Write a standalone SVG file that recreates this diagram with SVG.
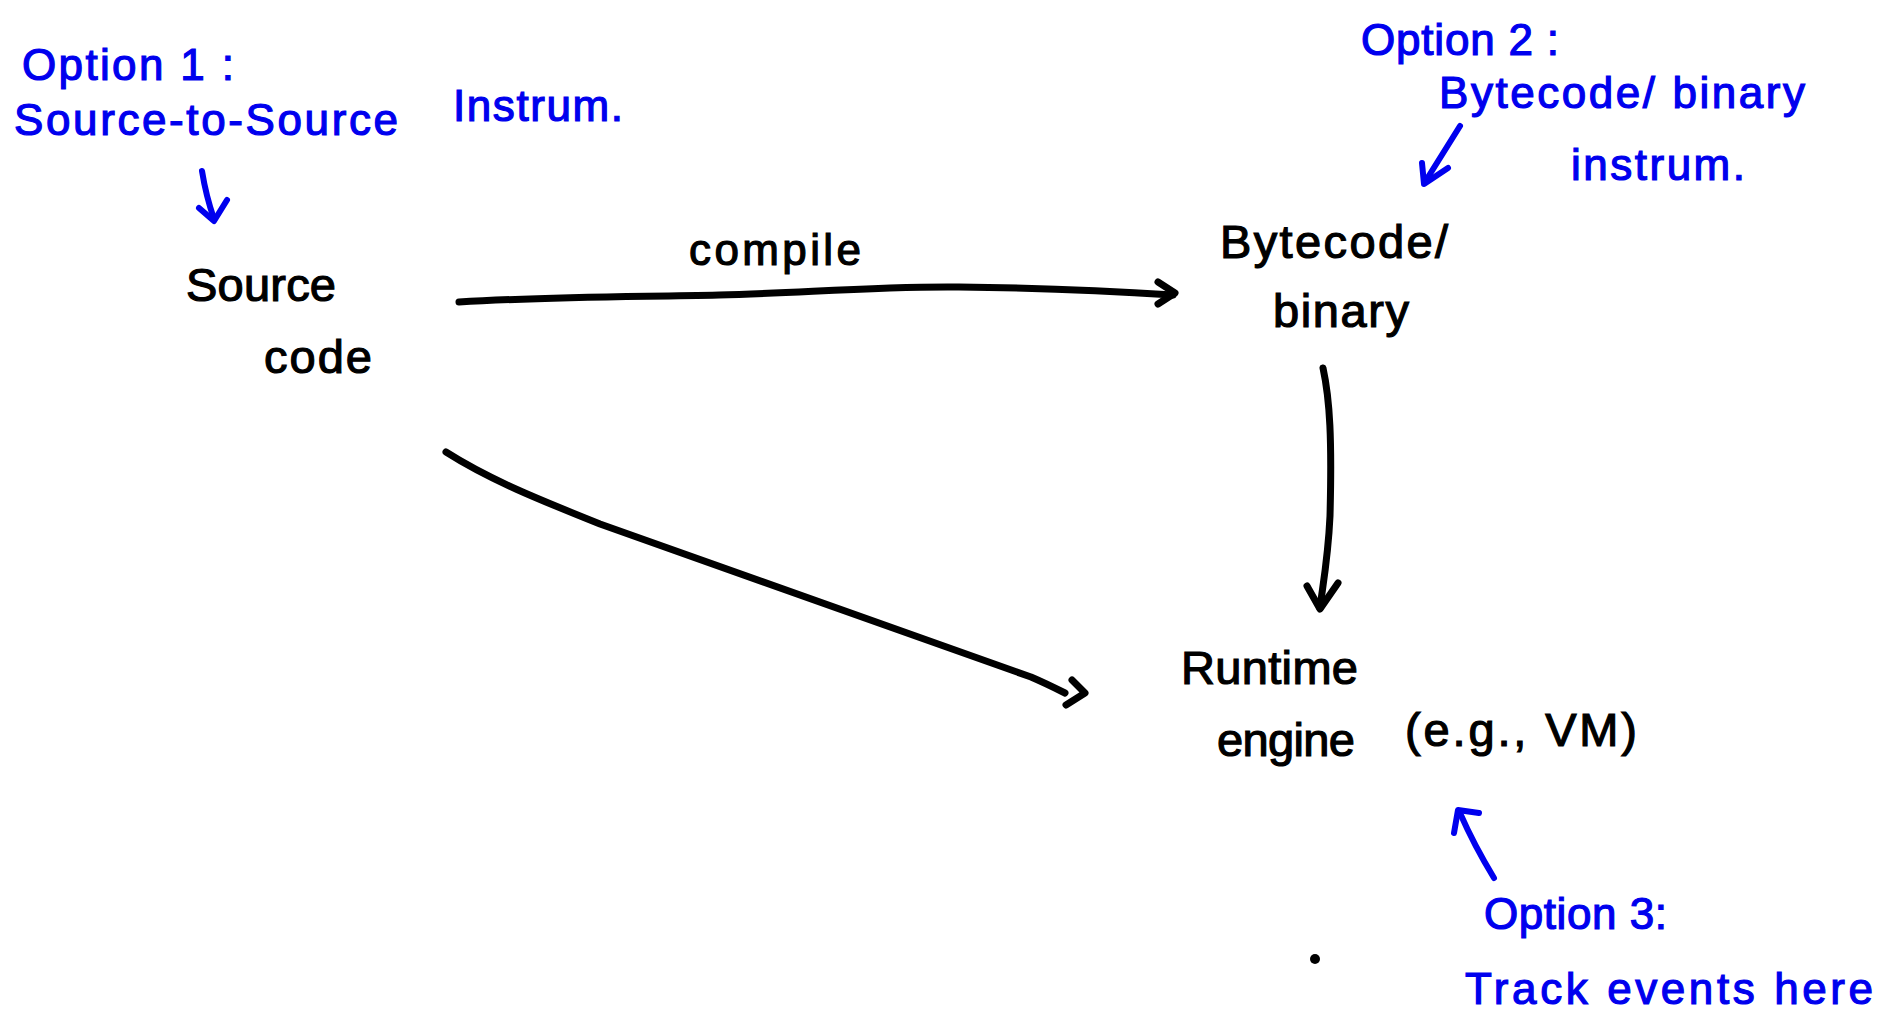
<svg xmlns="http://www.w3.org/2000/svg" width="1880" height="1016" viewBox="0 0 1880 1016">
<style>
  text { font-family: "Liberation Sans", Arial, sans-serif; }
  .blue { fill: #0000ee; stroke: #0000ee; stroke-width: 1.2; font-size: 44px; }
  .black { fill: #000; stroke: #000; stroke-width: 1.2; font-size: 47px; }
  .line { fill: none; stroke: #000; stroke-width: 7; stroke-linecap: round; stroke-linejoin: round; }
  .bline { fill: none; stroke: #0000ee; stroke-width: 6; stroke-linecap: round; stroke-linejoin: round; }
</style>
<rect width="1880" height="1016" fill="#fff"/>

<g id="option1">
  <text class="blue" x="22" y="80" textLength="212" lengthAdjust="spacing">Option 1 :</text>
  <text class="blue" x="14" y="135" textLength="384" lengthAdjust="spacing">Source-to-Source</text>
  <text class="blue" x="453" y="121" textLength="170" lengthAdjust="spacing">Instrum.</text>
</g>

<g id="option2">
  <text class="blue" x="1361" y="55" textLength="198" lengthAdjust="spacing">Option 2 :</text>
  <text class="blue" x="1439" y="108" textLength="366" lengthAdjust="spacing">Bytecode/ binary</text>
  <text class="blue" x="1571" y="180" textLength="174" lengthAdjust="spacing">instrum.</text>
</g>

<g id="option3">
  <text class="blue" x="1484" y="929" textLength="183" lengthAdjust="spacing">Option 3:</text>
  <text class="blue" x="1465" y="1004" textLength="408" lengthAdjust="spacing">Track events here</text>
</g>

<g id="source-code">
  <text class="black" x="186" y="301" textLength="150" lengthAdjust="spacing">Source</text>
  <text class="black" x="264" y="373" textLength="108" lengthAdjust="spacing">code</text>
</g>

<g id="bytecode">
  <text class="black" x="1220" y="258" textLength="228" lengthAdjust="spacing">Bytecode/</text>
  <text class="black" x="1273" y="327" textLength="136" lengthAdjust="spacing">binary</text>
</g>

<g id="runtime">
  <text class="black" x="1181" y="684" textLength="177" lengthAdjust="spacing">Runtime</text>
  <text class="black" x="1217" y="756" textLength="138" lengthAdjust="spacing">engine</text>
  <text class="black" x="1405" y="746" textLength="232" lengthAdjust="spacing">(e.g., VM)</text>
</g>

<g id="dot">
  <circle cx="1315" cy="959" r="5" fill="#000"/>
</g>

<g id="connectors">
  <!-- compile -->
  <text class="black" x="689" y="265" textLength="172" lengthAdjust="spacing" style="font-size:44px">compile</text>
  <path class="line" d="M459,302 C540,297 620,297 719,295 C800,293 880,286 959,287 C1040,288 1110,291 1173,295"/>
  <path class="line" d="M1158,282 L1175,293 L1158,304"/>
  <!-- bytecode to runtime -->
  <path class="line" d="M1323,368 C1330,400 1332,440 1330,516 C1328,560 1322,590 1320,608"/>
  <path class="line" d="M1307,586 L1320,609 L1338,583"/>
  <!-- source to runtime -->
  <path class="line" d="M446,452 C490,480 540,500 600,524 C760,582 900,630 1031,677 C1045,683 1055,688 1065,693"/>
  <path class="line" d="M1072,680 L1085,693 L1066,705"/>
  <!-- blue arrows -->
  <path class="bline" d="M202,171 Q206,196 214,219"/>
  <path class="bline" d="M199,208 L214,221 L227,200"/>
  <path class="bline" d="M1460,126 L1425,182"/>
  <path class="bline" d="M1422,163 L1424,184 L1448,168"/>
  <path class="bline" d="M1494,878 Q1474,845 1460,813"/>
  <path class="bline" d="M1454,833 L1458,810 L1479,813"/>
</g>
</svg>
